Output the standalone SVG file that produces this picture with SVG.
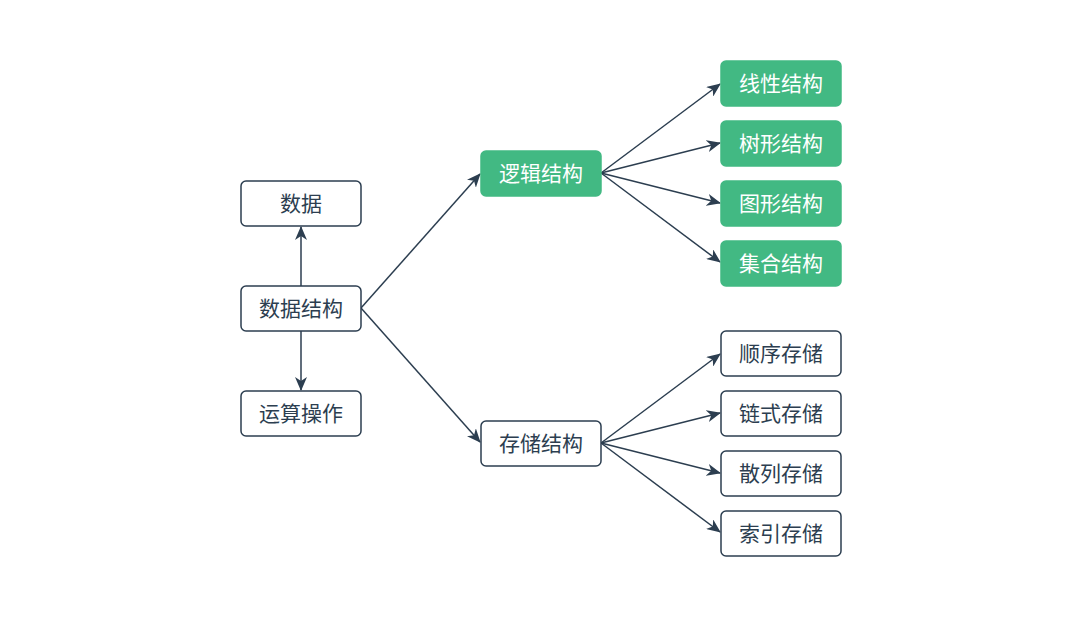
<svg xmlns="http://www.w3.org/2000/svg" width="1082" height="617" viewBox="0 0 1082 617">
<style>
.n rect{fill:#ffffff;stroke:#2c3e50;stroke-width:1.5}
.g rect{fill:#42b983;stroke:#42b983;stroke-width:1.5}
text{font-family:"Noto Sans CJK SC","Noto Sans",sans-serif;font-size:21px;text-anchor:middle;dominant-baseline:central}
.n text{fill:#2c3e50}
.g text{fill:#ffffff}
.e path{fill:none;stroke:#2c3e50;stroke-width:1.5;marker-end:url(#ah)}
</style>
<defs>
<marker id="ah" viewBox="0 0 14 12" refX="13" refY="6" markerWidth="14" markerHeight="12" markerUnits="userSpaceOnUse" orient="auto">
<path d="M0,0 L14,6 L0,12 L4,6 z" fill="#2c3e50"/>
</marker>
</defs>
<rect width="1082" height="617" fill="#ffffff"/>
<g class="e" id="connectors">
<path d="M301,286 L301,227"/>
<path d="M301,331 L301,390"/>
<path d="M361,308 L480,174"/>
<path d="M361,308 L480,442"/>
<path d="M601,173 L720,84"/>
<path d="M601,173 L720,143"/>
<path d="M601,173 L720,203"/>
<path d="M601,173 L720,262"/>
<path d="M601,443 L720,354"/>
<path d="M601,443 L720,413"/>
<path d="M601,443 L720,473"/>
<path d="M601,443 L720,532"/>
</g>
<g class="n" id="n-shuju"><rect x="241" y="181" width="120" height="45" rx="5"/><text x="301" y="202">数据</text></g>
<g class="n" id="n-jiegou"><rect x="241" y="286" width="120" height="45" rx="5"/><text x="301" y="307">数据结构</text></g>
<g class="n" id="n-yunsuan"><rect x="241" y="391" width="120" height="45" rx="5"/><text x="301" y="412">运算操作</text></g>
<g class="g" id="n-luoji"><rect x="481" y="151" width="120" height="45" rx="5"/><text x="541" y="172">逻辑结构</text></g>
<g class="n" id="n-cunchu"><rect x="481" y="421" width="120" height="45" rx="5"/><text x="541" y="442">存储结构</text></g>
<g class="g" id="n-xianxing"><rect x="721" y="61" width="120" height="45" rx="5"/><text x="781" y="82">线性结构</text></g>
<g class="g" id="n-shuxing"><rect x="721" y="121" width="120" height="45" rx="5"/><text x="781" y="142">树形结构</text></g>
<g class="g" id="n-tuxing"><rect x="721" y="181" width="120" height="45" rx="5"/><text x="781" y="202">图形结构</text></g>
<g class="g" id="n-jihe"><rect x="721" y="241" width="120" height="45" rx="5"/><text x="781" y="262">集合结构</text></g>
<g class="n" id="n-shunxu"><rect x="721" y="331" width="120" height="45" rx="5"/><text x="781" y="352">顺序存储</text></g>
<g class="n" id="n-lianshi"><rect x="721" y="391" width="120" height="45" rx="5"/><text x="781" y="412">链式存储</text></g>
<g class="n" id="n-sanlie"><rect x="721" y="451" width="120" height="45" rx="5"/><text x="781" y="472">散列存储</text></g>
<g class="n" id="n-suoyin"><rect x="721" y="511" width="120" height="45" rx="5"/><text x="781" y="532">索引存储</text></g>
</svg>
